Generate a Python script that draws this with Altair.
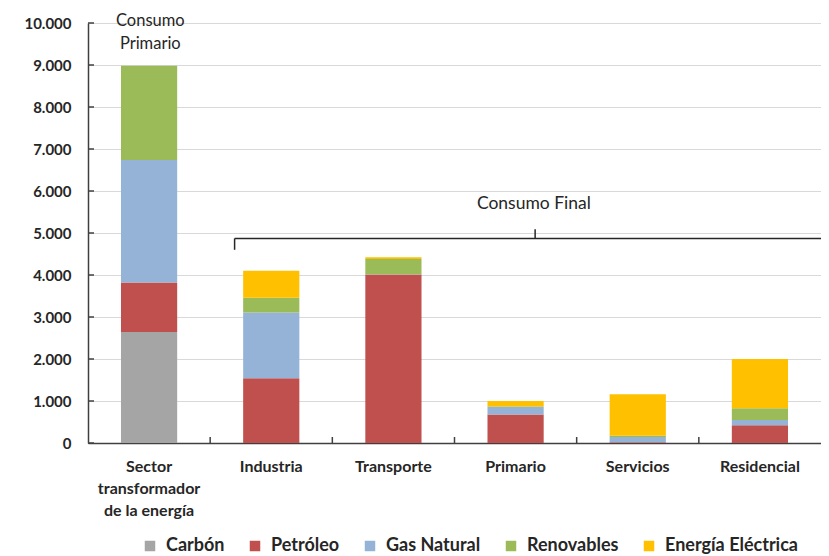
import altair as alt
import pandas as pd

categories = ["Sector transformador de la energía", "Industria", "Transporte",
              "Primario", "Servicios", "Residencial"]
sources = ["Carbón", "Petróleo", "Gas Natural", "Renovables", "Energía Eléctrica"]
colors = ["#a5a5a5", "#c0504d", "#95b3d7", "#9bbb59", "#ffc000"]

carbon = [2640, 0, 0, 0, 0, 0]
petroleo = [1180, 1540, 4010, 680, 20, 420]
gas = [2920, 1570, 10, 180, 120, 130]
renovables = [2240, 350, 360, 10, 30, 280]
electrica = [0, 640, 40, 130, 990, 1170]

y_ticks = [0, 1000, 2000, 3000, 4000, 5000, 6000, 7000, 8000, 9000, 10000]
category_bounds = [1, 2, 3, 4, 5]

# annotation: bracket segments in category-step units (x) and data units (y)
br_x = [1.2, 1.2, 3.66]
br_x2 = [6.0, 1.2, 3.66]
br_y = [4869, 4869, 4869]
br_y2 = [4869, 4600, 5090]

rows = []
for si, (s, vals) in enumerate(zip(sources, [carbon, petroleo, gas, renovables, electrica])):
    for c, v in zip(categories, vals):
        rows.append({"Sector": c, "Fuente": s, "Valor": v, "orden": si})
df = pd.DataFrame(rows)

FONT = "Lato"
TXT = "#262626"
AX = "#404040"

pos_scale = alt.Scale(domain=[0, 6], nice=False, zero=False)
y_scale = alt.Scale(domain=[0, 10000], nice=False)

x_enc = alt.X(
    "Sector:N", sort=categories,
    scale=alt.Scale(paddingInner=0.54, paddingOuter=0.27),
    axis=alt.Axis(
        title=None, labelAngle=0, grid=False, ticks=False,
        domainColor=AX, domainWidth=1.5,
        labelFont=FONT, labelFontSize=16, labelFontWeight="bold", labelColor=TXT,
        labelPadding=15, labelLineHeight=22, labelBaseline="top",
        labelExpr="datum.value == 'Sector transformador de la energía' ? ['Sector', 'transformador', 'de la energía'] : datum.label",
    ),
)

bars = alt.Chart(df).mark_bar().encode(
    x=x_enc,
    y=alt.Y(
        "Valor:Q", stack="zero", scale=y_scale,
        axis=alt.Axis(
            title=None, values=y_ticks, grid=True, gridColor="#d9d9d9", gridWidth=1,
            domainColor=AX, domainWidth=1.5, ticks=False,
            labelFont=FONT, labelFontSize=15, labelFontWeight="bold", labelColor=TXT,
            labelPadding=17,
            labelExpr="replace(format(datum.value, ','), ',', '.')",
        ),
    ),
    color=alt.Color(
        "Fuente:N",
        scale=alt.Scale(domain=sources, range=colors),
        legend=alt.Legend(
            title=None, orient="none", legendX=53, legendY=514, direction="horizontal",
            symbolType="square", symbolSize=110, symbolStrokeWidth=0,
            labelFont=FONT, labelFontSize=18, labelFontWeight="bold", labelColor=TXT,
            labelOffset=7, columnPadding=21,
        ),
    ),
    order=alt.Order("orden:Q", sort="ascending"),
)

# inward tick marks on the y axis
y_tick_marks = alt.Chart(pd.DataFrame({"v": y_ticks})).mark_rule(color=AX, strokeWidth=1.5).encode(
    x=alt.value(0), x2=alt.value(6), y=alt.Y("v:Q", scale=y_scale))

# inward tick marks at category boundaries on the x axis
x_tick_marks = alt.Chart(pd.DataFrame({"b": category_bounds})).mark_rule(color=AX, strokeWidth=1.5).encode(
    x=alt.X("b:Q", scale=pos_scale, axis=None), y=alt.value(420), y2=alt.value(414))

ann_primario = alt.Chart(pd.DataFrame({"p": [0.51], "yv": [10250], "t": ["Consumo\nPrimario"]})).mark_text(
    lineBreak="\n", font=FONT, fontSize=16.5, color=TXT, baseline="top", lineHeight=23
).encode(x=alt.X("p:Q", scale=pos_scale, axis=None), y=alt.Y("yv:Q", scale=y_scale), text="t:N")

ann_final = alt.Chart(pd.DataFrame({"p": [3.65], "yv": [5690], "t": ["Consumo Final"]})).mark_text(
    font=FONT, fontSize=17.5, color=TXT, baseline="middle"
).encode(x=alt.X("p:Q", scale=pos_scale, axis=None), y=alt.Y("yv:Q", scale=y_scale), text="t:N")

bracket = alt.Chart(pd.DataFrame({"x": br_x, "x2": br_x2, "y": br_y, "y2": br_y2})).mark_rule(
    color=TXT, strokeWidth=1.5
).encode(
    x=alt.X("x:Q", scale=pos_scale, axis=None), x2="x2:Q",
    y=alt.Y("y:Q", scale=y_scale), y2="y2:Q",
)

chart = alt.layer(bars, y_tick_marks, x_tick_marks, ann_primario, ann_final, bracket).resolve_scale(
    x="independent"
).properties(
    width=733, height=420,
    autosize=alt.AutoSizeParams(type="none"),
    padding={"left": 80, "top": 15, "right": 0, "bottom": 113},
).configure_view(stroke=None).configure(background="white")

chart.save("out.html", embed_options={"renderer": "svg", "actions": False})
